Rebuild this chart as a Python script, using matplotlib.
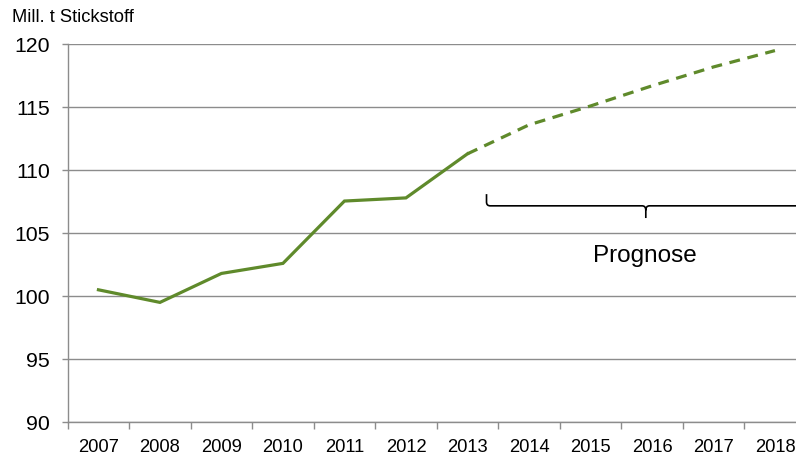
import numpy as np
import matplotlib.pyplot as plt
from matplotlib.path import Path
from matplotlib.patches import PathPatch

# Data
years = ["2007", "2008", "2009", "2010", "2011", "2012", "2013",
         "2014", "2015", "2016", "2017", "2018"]
actual = [100.5, 99.5, 101.8, 102.6, 107.55, 107.8, 111.3]
forecast = [111.3, 113.6, 115.1, 116.7, 118.2, 119.5]
y_ticks = [90, 95, 100, 105, 110, 115, 120]

green = "#5F8A2B"
grid_col = "#8C8C8C"

plt.rcParams["font.family"] = ["Liberation Sans", "DejaVu Sans"]

fig = plt.figure(figsize=(7.96, 4.59), dpi=100)
W, H = 796, 459
left, right, top, bottom = 67.7, 805.7, 44.3, 422
ax = fig.add_axes([left / W, (H - bottom) / H, (right - left) / W, (bottom - top) / H])

x = np.arange(len(years))
x_act = x[:len(actual)]
x_fc = x[len(actual) - 1:]

ax.plot(x_act, actual, color=green, lw=2.3, solid_joinstyle="miter", zorder=3)
ax.plot(x_fc, forecast, color=green, lw=2.3, linestyle=(0, (3.4, 2.4)),
        dash_capstyle="butt", zorder=3)

ax.set_xlim(-0.5, len(years) - 0.5)
ax.set_ylim(90, 120)
ax.set_yticks(y_ticks)
ax.set_yticklabels([str(v) for v in y_ticks], fontsize=15.3)
ax.yaxis.grid(True, color=grid_col, lw=1)
ax.set_axisbelow(True)

# category axis: ticks between the labels
ax.set_xticks(np.arange(-0.5, len(years), 1))
ax.set_xticklabels([])
ax.set_xticks(x, minor=True)
ax.set_xticklabels(years, minor=True, fontsize=13.2)
ax.tick_params(axis="x", which="major", length=5, color=grid_col, width=1, direction="out")
ax.tick_params(axis="x", which="minor", length=0, pad=12)
ax.tick_params(axis="y", length=4, color=grid_col, width=1, pad=9)

for s in ["top", "right"]:
    ax.spines[s].set_visible(False)
for s in ["left", "bottom"]:
    ax.spines[s].set_color(grid_col)
    ax.spines[s].set_linewidth(1)

# brace over the forecast years
x0, xm, x1 = 6.31, 8.9, 11.5
yt, yb, ytip = 108.1, 107.17, 106.2
r = 0.06
verts = [(x0, yt), (x0, yb + 0.3), (x0, yb), (x0 + r, yb),
         (xm - r, yb), (xm, yb), (xm, yb - 0.35), (xm, ytip),
         (xm, yb - 0.35), (xm, yb), (xm + r, yb),
         (x1 - r, yb), (x1, yb), (x1, yb + 0.3), (x1, yt)]
codes = [Path.MOVETO, Path.LINETO, Path.CURVE3, Path.CURVE3,
         Path.LINETO, Path.CURVE3, Path.CURVE3, Path.LINETO,
         Path.MOVETO, Path.CURVE3, Path.CURVE3,
         Path.LINETO, Path.CURVE3, Path.CURVE3, Path.LINETO]
ax.add_patch(PathPatch(Path(verts, codes), fill=False, color="black", lw=1.2, clip_on=False))

ax.text(xm - 0.02, 103.2, "Prognose", fontsize=17.5, ha="center", va="center")

fig.text(12 / W, 1 - 17 / H, "Mill. t Stickstoff", fontsize=13.2, ha="left", va="center")

fig.savefig("out.png", dpi=100)
